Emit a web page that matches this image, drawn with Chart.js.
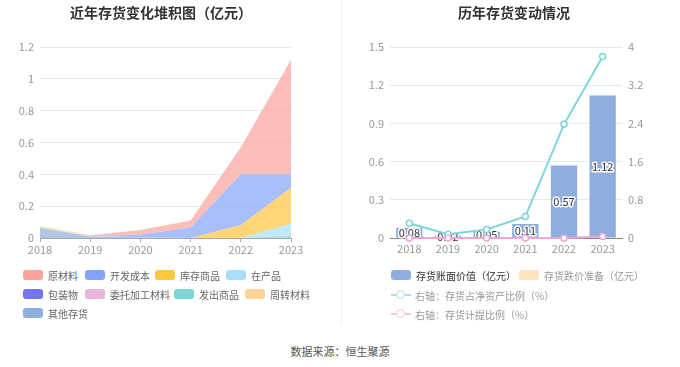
<!DOCTYPE html>
<html><head><meta charset="utf-8">
<script src="https://cdn.jsdelivr.net/npm/chart.js@4.4.0/dist/chart.umd.min.js"></script>
<style>
body{margin:0;background:#fff;font-family:"Noto Sans CJK SC","Noto Sans",sans-serif;}
#wrap{position:relative;width:680px;height:367px;overflow:hidden;}
canvas{position:absolute;top:0;}
.title{position:absolute;top:2px;font-size:14px;font-weight:bold;color:#333;white-space:nowrap;transform:translateX(-50%);}
.lg{position:absolute;font-size:10px;color:#666;white-space:nowrap;display:flex;align-items:center;height:14px;}
.box{display:inline-block;width:20px;height:10px;border-radius:3px;margin-right:5px;}
.ln{position:relative;display:inline-block;width:20px;height:10px;margin-right:4px;}
.ln i{position:absolute;left:0;top:4px;width:20px;height:2px;}
.ln b{position:absolute;left:5px;top:0;width:7px;height:7px;border-radius:50%;background:#fff;border:1.5px solid;}
#divider{position:absolute;left:341px;top:0;width:1px;height:325px;background:#f0f0f0;}
#src{position:absolute;top:343px;left:340px;transform:translateX(-50%);font-size:11px;color:#555;white-space:nowrap;}
</style></head>
<body><div id="wrap">
<canvas id="c1" width="340" height="260" style="left:0"></canvas>
<canvas id="c2" width="340" height="260" style="left:340px"></canvas>
<div class="title" style="left:161px">近年存货变化堆积图（亿元）</div>
<div class="title" style="left:514px">历年存货变动情况</div>
<div id="divider"></div>
<div id="legend1"></div>
<div id="legend2"></div>
<div id="src">数据来源：恒生聚源</div>
</div>
<script>
// ---- data ----
const years = ['2018','2019','2020','2021','2022','2023'];
// left stacked area (亿元)
const rawMaterial   = [0, 0.006, 0.028, 0.044, 0.17, 0.72];   // 原材料
const devCost       = [0, 0, 0.017, 0.066, 0.32, 0.085];      // 开发成本
const stockGoods    = [0, 0, 0, 0, 0.08, 0.226];              // 库存商品
const wip           = [0, 0, 0, 0, 0, 0.073];                 // 在产品
const packaging     = [0, 0, 0, 0, 0, 0];                     // 包装物
const consigned     = [0, 0, 0, 0, 0, 0.004];                 // 委托加工材料
const shipped       = [0, 0, 0, 0, 0, 0.012];                 // 发出商品
const turnover      = [0.01, 0.002, 0, 0, 0, 0];              // 周转材料
const otherStock    = [0.065, 0.01, 0.005, 0, 0, 0];          // 其他存货
// right chart
const bookValue     = [0.08, 0.02, 0.05, 0.11, 0.57, 1.12];   // 存货账面价值（亿元）
const impairment    = [0, 0, 0, 0, 0, 0];                     // 存货跌价准备（亿元）
const ratioNetAsset = [0.31, 0.08, 0.18, 0.45, 2.38, 3.8];    // 存货占净资产比例（%）
const provisionRate = [0, 0, 0, 0, 0, 0.03];                  // 存货计提比例（%）
const leftTicks  = [0, 0.3, 0.6, 0.9, 1.2, 1.5];
const rightTicks = [0, 0.8, 1.6, 2.4, 3.2, 4];

const FONT = '"Noto Sans CJK SC","Noto Sans",sans-serif';
function rgba(hex,a){const n=parseInt(hex.slice(1),16);return `rgba(${n>>16},${(n>>8)&255},${n&255},${a})`;}
const fmt = v => String(+Number(v).toFixed(2));

const series = [
  ['原材料', rawMaterial, '#FBA29A'],
  ['开发成本', devCost, '#84A4FB'],
  ['库存商品', stockGoods, '#FFC53D'],
  ['在产品', wip, '#A8DFFA'],
  ['包装物', packaging, '#7574F3'],
  ['委托加工材料', consigned, '#E8B6DB'],
  ['发出商品', shipped, '#7FD6D6'],
  ['周转材料', turnover, '#FFD595'],
  ['其他存货', otherStock, '#8DAEDF'],
];
// stack from bottom: reverse of legend order
const ds1 = series.slice().reverse().map((s,i)=>({
  label:s[0], data:s[1], borderColor:rgba(s[2],0.7), backgroundColor:rgba(s[2],0.7),
  borderWidth:0, pointRadius:0, tension:0, fill: i===0?'origin':'-1'
}));

new Chart(document.getElementById('c1'),{
  type:'line',
  data:{labels:years,datasets:ds1},
  options:{
    responsive:false, animation:false, devicePixelRatio:1,
    layout:{padding:{top:47,right:49,left:0,bottom:0}},
    plugins:{legend:{display:false},tooltip:{enabled:false}},
    scales:{
      x:{afterFit:s=>{s.height=22;},
         grid:{display:true,drawOnChartArea:false,drawTicks:true,tickLength:4,color:'#aaa'},
         border:{color:'#aaa'},
         ticks:{color:'#999',font:{size:11,family:FONT},padding:1,maxRotation:0}},
      y:{stacked:true,min:0,max:1.2,afterFit:s=>{s.width=40;},
         grid:{color:'#E5E9F3',drawTicks:false},border:{display:false},
         ticks:{stepSize:0.2,color:'#999',font:{size:11,family:FONT},padding:6,callback:fmt}}
    }
  }
});

const barLabel = {
  id:'barLabel',
  afterDatasetDraw(chart,args){
    if(args.index!==0) return;
    const ctx=chart.ctx; const meta=args.meta;
    ctx.save();
    ctx.font='11px '+FONT; ctx.textAlign='center'; ctx.textBaseline='middle';
    ctx.lineJoin='round';
    meta.data.forEach((el,i)=>{
      const y=(el.y+el.base)/2; const t=bookValue[i].toFixed(2);
      ctx.strokeStyle='#fff'; ctx.lineWidth=3; ctx.strokeText(t,el.x,y);
      ctx.fillStyle='#333'; ctx.fillText(t,el.x,y);
    });
    ctx.restore();
  }
};

new Chart(document.getElementById('c2'),{
  type:'bar',
  data:{labels:years,datasets:[
    {type:'bar',label:'存货账面价值（亿元）',data:bookValue,backgroundColor:'#8DAEDF',yAxisID:'y',
     barPercentage:0.68,categoryPercentage:1,grouped:false,order:3},
    {type:'bar',label:'存货跌价准备（亿元）',data:impairment,backgroundColor:'#FFE3BE',yAxisID:'y',
     barPercentage:0.68,categoryPercentage:1,grouped:false,order:2},
    {type:'line',label:'右轴：存货占净资产比例（%）',data:ratioNetAsset,borderColor:'#7ED5DA',borderWidth:2,clip:false,
     pointRadius:3,pointBackgroundColor:'#fff',pointBorderColor:'#7ED5DA',pointBorderWidth:1.5,yAxisID:'y1',tension:0,order:1},
    {type:'line',label:'右轴：存货计提比例（%）',data:provisionRate,borderColor:'#EBA6D6',borderWidth:2,clip:false,
     pointRadius:3,pointBackgroundColor:'#fff',pointBorderColor:'#EBA6D6',pointBorderWidth:1.5,yAxisID:'y1',tension:0,order:0}
  ]},
  options:{
    responsive:false, animation:false, devicePixelRatio:1,
    layout:{padding:{top:47,right:0,left:0,bottom:0}},
    plugins:{legend:{display:false},tooltip:{enabled:false}},
    scales:{
      x:{afterFit:s=>{s.height=22;},
         grid:{display:false,drawTicks:false},border:{color:'#888'},
         ticks:{color:'#999',font:{size:11,family:FONT},padding:4,maxRotation:0}},
      y:{position:'left',min:0,max:1.5,afterFit:s=>{s.width=50;},
         afterBuildTicks:s=>{s.ticks=leftTicks.map(v=>({value:v}));},
         grid:{color:'#E5E9F3',drawTicks:false},border:{display:false},
         ticks:{color:'#999',font:{size:11,family:FONT},padding:6,callback:fmt}},
      y1:{position:'right',min:0,max:4,afterFit:s=>{s.width=58;},
         afterBuildTicks:s=>{s.ticks=rightTicks.map(v=>({value:v}));},
         grid:{display:false,drawTicks:false},border:{display:false},
         ticks:{color:'#999',font:{size:11,family:FONT},padding:6,callback:fmt}}
    }
  },
  plugins:[barLabel]
});

// HTML legends
const l1 = document.getElementById('legend1');
const pos1 = [[23,268],[85,268],[155,268],[226,268],[23,287],[85,287],[174,287],[245,287],[23,306]];
series.forEach((s,i)=>{
  const d=document.createElement('div'); d.className='lg';
  d.style.left=pos1[i][0]+'px'; d.style.top=pos1[i][1]+'px';
  d.innerHTML=`<span class="box" style="background:${s[2]}"></span>${s[0]}`;
  l1.appendChild(d);
});
const l2 = document.getElementById('legend2');
const items2 = [
  ['box','#8DAEDF','存货账面价值（亿元）',391,268,'#333'],
  ['box','#FFE3BE','存货跌价准备（亿元）',519,268,'#999'],
  ['ln','#A6E3E6','右轴：存货占净资产比例（%）',391,288,'#999'],
  ['ln','#F5C8E6','右轴：存货计提比例（%）',391,307,'#999'],
];
items2.forEach(it=>{
  const d=document.createElement('div'); d.className='lg';
  d.style.left=it[3]+'px'; d.style.top=it[4]+'px'; d.style.color=it[5];
  d.innerHTML = it[0]==='box' ? `<span class="box" style="background:${it[1]}"></span>${it[2]}`
    : `<span class="ln"><i style="background:${it[1]}"></i><b style="border-color:${it[1]}"></b></span>${it[2]}`;
  l2.appendChild(d);
});
</script>
</body></html>
